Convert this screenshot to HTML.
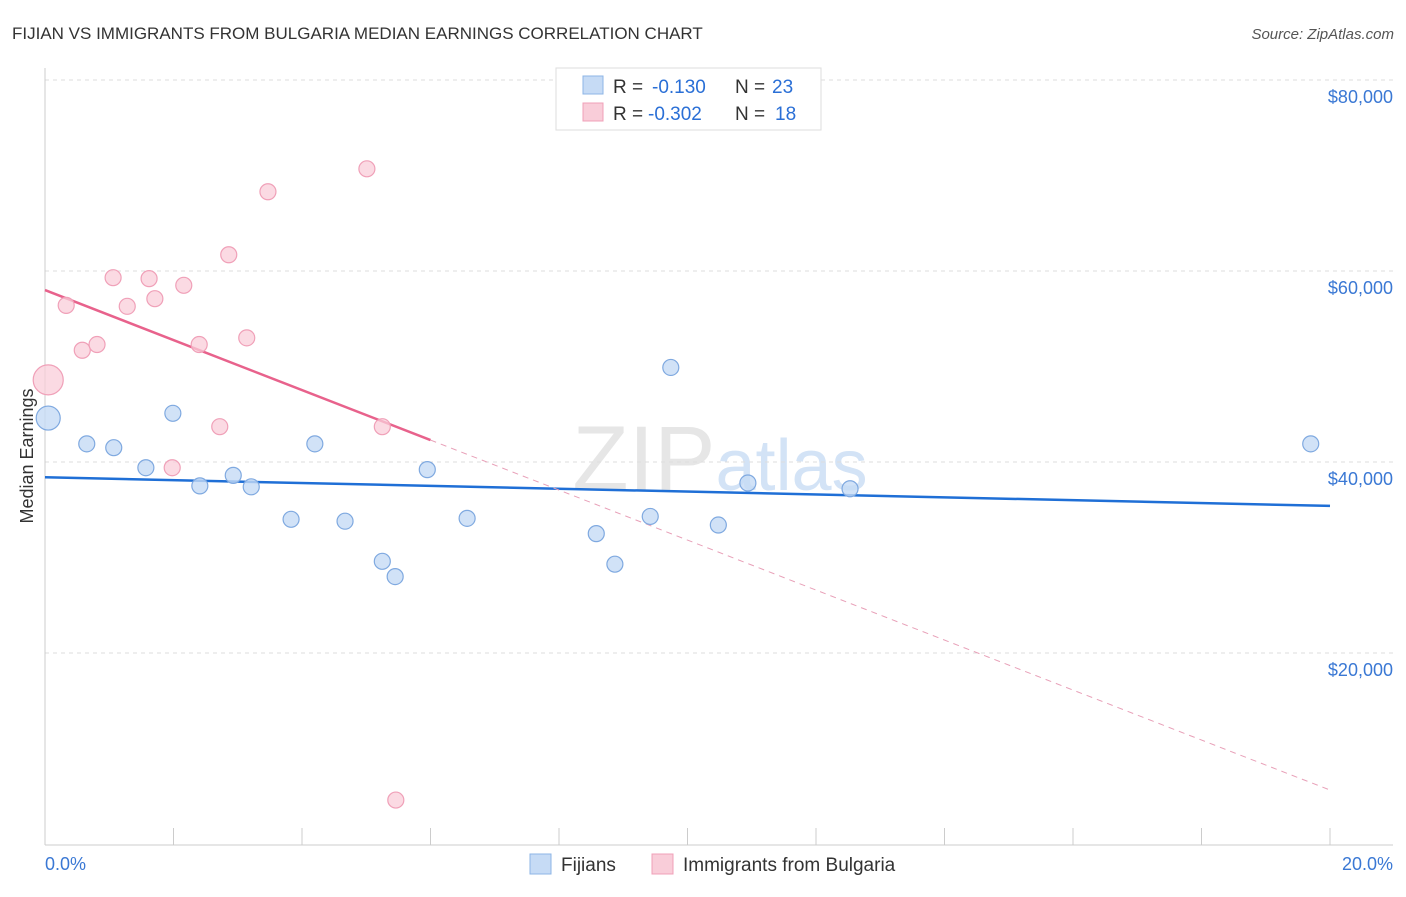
<!DOCTYPE html>
<html><head><meta charset="utf-8"><style>
body{margin:0;background:#fff;font-family:"Liberation Sans",sans-serif;}
svg text{font-family:"Liberation Sans",sans-serif;}
</style></head><body>
<svg id="chart" width="1406" height="892" xmlns="http://www.w3.org/2000/svg">
<text x="12" y="39" font-size="17" fill="#333">FIJIAN VS IMMIGRANTS FROM BULGARIA MEDIAN EARNINGS CORRELATION CHART</text>
<text x="1394" y="39" font-size="15" fill="#555" text-anchor="end" font-style="italic">Source: ZipAtlas.com</text>
<text x="720" y="490" font-size="92" fill="#e6e6e6" text-anchor="middle" font-family="Liberation Serif">ZIP<tspan fill="#d3e3f6" font-family="Liberation Sans" font-size="72">atlas</tspan></text>
<g id="grid"></g><g id="axes"></g><g id="trends"></g><g id="points"></g>
<text transform="translate(33,456) rotate(-90)" font-size="18" fill="#333" text-anchor="middle">Median Earnings</text>
<text x="45" y="870" font-size="18" fill="#3a78d4">0.0%</text>
<text x="1393" y="870" font-size="18" fill="#3a78d4" text-anchor="end">20.0%</text>
<g>
<rect x="556" y="68" width="265" height="62" fill="#fff" stroke="#ddd"/>
<rect x="583" y="76" width="20" height="18" fill="#c6dbf5" stroke="#8db4e6"/>
<rect x="583" y="103" width="20" height="18" fill="#f9cdd9" stroke="#f0a0b8"/>
<text x="613" y="93" font-size="19" fill="#333">R =</text>
<text x="652" y="93" font-size="19" fill="#2a6fd6">-0.130</text>
<text x="735" y="93" font-size="19" fill="#333">N =</text>
<text x="772" y="93" font-size="19" fill="#2a6fd6">23</text>
<text x="613" y="120" font-size="19" fill="#333">R =</text>
<text x="648" y="120" font-size="19" fill="#2a6fd6">-0.302</text>
<text x="735" y="120" font-size="19" fill="#333">N =</text>
<text x="775" y="120" font-size="19" fill="#2a6fd6">18</text>
</g>
<g>
<rect x="530" y="854" width="21" height="20" fill="#c6dbf5" stroke="#8db4e6"/>
<text x="561" y="871" font-size="19" fill="#333">Fijians</text>
<rect x="652" y="854" width="21" height="20" fill="#f9cdd9" stroke="#f0a0b8"/>
<text x="683" y="871" font-size="19" fill="#333">Immigrants from Bulgaria</text>
</g>
</svg>
<script>
const yTicks=[20000,40000,60000,80000];
const yTickLabels=["$20,000","$40,000","$60,000","$80,000"];
const blueX=[0.05,0.65,1.07,1.57,1.99,2.41,2.93,3.21,3.83,4.20,4.67,5.25,5.45,5.95,6.57,8.58,8.87,9.42,9.74,10.48,10.94,12.53,19.70];
const blueY=[44600,41900,41500,39400,45100,37500,38600,37400,34000,41900,33800,29600,28000,39200,34100,32500,29300,34300,49900,33400,37800,37200,41900];
const blueBig=[1,0,0,0,0,0,0,0,0,0,0,0,0,0,0,0,0,0,0,0,0,0,0];
const pinkX=[0.05,0.33,0.58,0.81,1.06,1.28,1.62,1.71,2.16,2.40,2.72,2.86,3.14,3.47,5.01,5.25,5.46,1.98];
const pinkY=[48600,56400,51700,52300,59300,56300,59200,57100,58500,52300,43700,61700,53000,68300,70700,43700,4600,39400];
const pinkBig=[1,0,0,0,0,0,0,0,0,0,0,0,0,0,0,0,0,0];
const blueTrend=[38400,35400];
const pinkTrend=[58000,5650];
const pinkSolidEnd=6.0;
const X=v=>45+v/20*1285;
const Y=v=>844-v/20000*191;
const NS="http://www.w3.org/2000/svg";
function mk(p,t,a){const e=document.createElementNS(NS,t);for(const k in a)e.setAttribute(k,a[k]);document.getElementById(p).appendChild(e);return e;}
yTicks.forEach((t,i)=>{
 const l=mk('grid','line',{x1:45,x2:1393,y1:Y(t),y2:Y(t),stroke:'#ddd','stroke-dasharray':'4 4'});
 
 
 const tx=mk('grid','text',{x:1393,y:Y(t)+23,'font-size':18,fill:'#3a78d4','text-anchor':'end'});
 tx.textContent=yTickLabels[i];
 
 
});
const ya=mk('axes','line',{x1:45,x2:45,y1:68,y2:845,stroke:'#ccc'});


const xa=mk('axes','line',{x1:45,x2:1393,y1:845,y2:845,stroke:'#ccc'});


for(let i=0;i<=10;i++){const t=mk('axes','line',{x1:X(i*2),x2:X(i*2),y1:828,y2:845,stroke:'#ccc'});
 
 }
const bt=mk('trends','line',{x1:X(0),x2:X(20),y1:Y(blueTrend[0]),y2:Y(blueTrend[1]),stroke:'#1f6fd6','stroke-width':2.5});


const py=x=>pinkTrend[0]+(pinkTrend[1]-pinkTrend[0])*x/20;
const ps=mk('trends','line',{x1:X(0),x2:X(pinkSolidEnd),y1:Y(py(0)),y2:Y(py(pinkSolidEnd)),stroke:'#e8628c','stroke-width':2.5});


const pd=mk('trends','line',{x1:X(pinkSolidEnd),x2:X(20),y1:Y(py(pinkSolidEnd)),y2:Y(py(20)),stroke:'#e8a0b8','stroke-width':1,'stroke-dasharray':'6 5'});


pinkX.forEach((x,i)=>{const c=mk('points','circle',{cx:X(x),cy:Y(pinkY[i]),r:pinkBig[i]?15:8,fill:'#f9cdd9','fill-opacity':0.75,stroke:'#f0a0b8','stroke-width':1.2});
 
 });
blueX.forEach((x,i)=>{const c=mk('points','circle',{cx:X(x),cy:Y(blueY[i]),r:blueBig[i]?12:8,fill:'#c6dbf5','fill-opacity':0.8,stroke:'#7fa9e0','stroke-width':1.2});
 
 });
</script>
</body></html>
